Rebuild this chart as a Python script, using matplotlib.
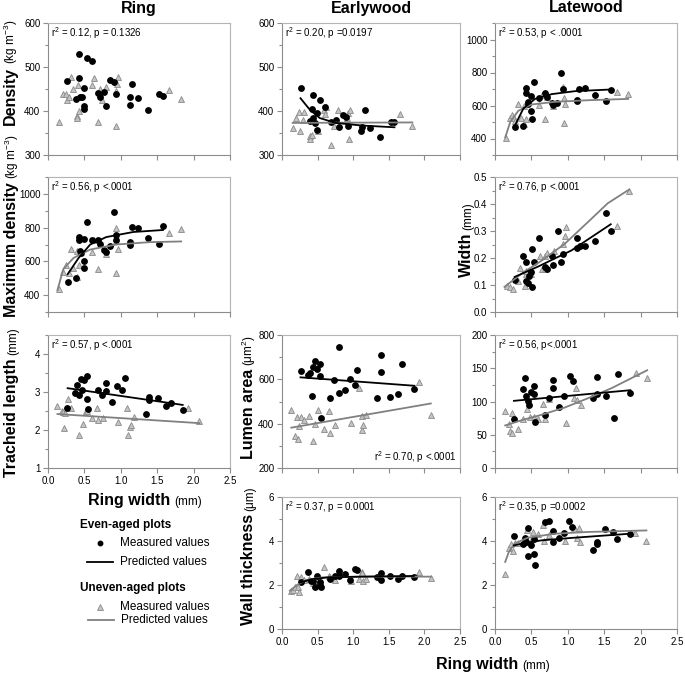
import matplotlib
matplotlib.use("Agg")
import matplotlib.pyplot as plt
from matplotlib.lines import Line2D
from matplotlib.ticker import MultipleLocator, FormatStrFormatter

plt.rcParams['font.family'] = ['Liberation Sans', 'DejaVu Sans']
plt.rcParams['mathtext.fontset'] = 'custom'
plt.rcParams['mathtext.rm'] = 'Liberation Sans'
plt.rcParams['mathtext.it'] = 'Liberation Sans:italic'
plt.rcParams['mathtext.bf'] = 'Liberation Sans:bold'

# ---- data ----
# Ring density
den_ring_e_x = [0.43,0.54,0.60,0.26,0.42,0.50,0.39,0.44,0.47,0.49,0.49,0.69,0.71,0.77,0.80,0.85,0.91,0.93,1.12,1.12,1.16,1.24,1.37,1.53,1.58]
den_ring_e_y = [530,520,514,469,474,453,427,431,431,412,405,440,431,443,411,471,465,439,431,413,461,429,402,439,435]
den_ring_u_x = [0.15,0.20,0.25,0.26,0.29,0.32,0.34,0.40,0.40,0.41,0.43,0.61,0.63,0.69,0.72,0.74,0.80,0.93,0.94,0.95,0.96,1.66,1.83]
den_ring_u_y = [375,439,439,424,432,477,450,389,384,458,401,460,474,374,451,426,455,367,445,462,477,447,428]

# Earlywood density
den_early_e_x = [0.26,0.43,0.42,0.44,0.46,0.39,0.49,0.49,0.53,0.60,0.69,0.76,0.80,0.85,0.90,0.93,1.11,1.12,1.16,1.24,1.37,1.53,1.58]
den_early_e_y = [452,437,405,384,373,378,396,356,425,408,376,379,363,390,387,365,355,364,403,362,340,374,375]
den_early_u_x = [0.15,0.20,0.25,0.24,0.31,0.29,0.40,0.40,0.42,0.50,0.59,0.62,0.61,0.69,0.73,0.79,0.93,0.91,0.96,0.94,1.66,1.83]
den_early_u_y = [361,384,354,397,397,379,344,336,346,355,403,409,394,323,367,402,396,383,402,336,393,367]
den_early_e_fit_x = [0.26,0.39,0.53,0.75,1.12,1.58]
den_early_e_fit_y = [429,403,384,373,367,363]
den_early_u_fit_x = [0.15,1.83]
den_early_u_fit_y = [373,374]

# Latewood density
den_late_e_x = [0.27,0.39,0.42,0.43,0.45,0.46,0.49,0.49,0.51,0.54,0.60,0.69,0.71,0.78,0.80,0.85,0.91,0.93,1.13,1.13,1.16,1.24,1.38,1.53,1.59]
den_late_e_y = [467,475,709,673,624,612,657,568,519,741,647,673,649,616,604,616,798,697,636,628,703,707,661,628,695]
den_late_u_x = [0.15,0.20,0.24,0.26,0.28,0.31,0.36,0.40,0.40,0.43,0.65,0.60,0.68,0.79,0.72,0.94,0.95,0.96,0.95,1.67,1.83]
den_late_u_y = [402,523,541,527,507,608,527,487,598,519,665,606,517,596,653,713,647,608,495,683,671]
den_late_e_fit_x = [0.26,0.39,0.55,0.78,1.10,1.59]
den_late_e_fit_y = [467,582,640,669,687,697]
den_late_u_fit_x = [0.14,0.21,0.32,0.50,0.82,1.28,1.83]
den_late_u_fit_y = [406,501,568,606,622,632,640]

# Maximum density
maxd_e_x = [0.27,0.38,0.42,0.42,0.44,0.46,0.49,0.50,0.50,0.53,0.60,0.69,0.71,0.77,0.79,0.85,0.91,0.93,0.93,1.12,1.12,1.16,1.24,1.37,1.53,1.58]
maxd_e_y = [476,500,744,728,660,650,730,600,560,834,726,726,704,670,654,690,890,756,728,714,696,804,796,740,704,808]
maxd_u_x = [0.15,0.20,0.25,0.29,0.32,0.34,0.40,0.40,0.43,0.63,0.61,0.69,0.80,0.93,0.94,0.94,0.96,1.66,1.83]
maxd_u_y = [434,540,576,530,676,560,510,664,576,726,656,556,644,800,720,534,676,770,794]
maxd_e_fit_x = [0.27,0.42,0.58,0.80,1.17,1.58]
maxd_e_fit_y = [524,620,700,744,774,786]
maxd_u_fit_x = [0.13,0.21,0.35,0.58,0.94,1.40,1.83]
maxd_u_fit_y = [430,554,620,670,700,714,718]

# Latewood width
width_e_x = [0.27,0.39,0.42,0.43,0.45,0.47,0.49,0.51,0.51,0.54,0.61,0.69,0.72,0.78,0.80,0.86,0.91,0.94,1.13,1.13,1.17,1.24,1.38,1.53,1.59]
width_e_y = [0.118,0.209,0.113,0.186,0.109,0.134,0.150,0.234,0.093,0.186,0.275,0.168,0.159,0.209,0.174,0.299,0.184,0.213,0.238,0.275,0.243,0.246,0.263,0.365,0.300]
width_u_x = [0.16,0.21,0.25,0.31,0.35,0.41,0.42,0.43,0.49,0.62,0.65,0.68,0.69,0.72,0.81,0.94,0.96,0.97,1.67,1.84]
width_u_y = [0.096,0.093,0.084,0.115,0.163,0.096,0.140,0.153,0.140,0.206,0.159,0.159,0.209,0.218,0.225,0.253,0.281,0.315,0.319,0.450]
width_e_fit_x = [0.27,0.59,1.05,1.59]
width_e_fit_y = [0.130,0.168,0.228,0.325]
width_u_fit_x = [0.13,0.37,0.64,0.96,1.28,1.55,1.84]
width_u_fit_y = [0.093,0.143,0.190,0.253,0.334,0.403,0.453]

# Tracheid length
trach_e_x = [0.26,0.37,0.40,0.43,0.45,0.47,0.49,0.53,0.54,0.55,0.68,0.74,0.79,0.80,0.88,0.95,1.02,1.06,1.34,1.39,1.39,1.51,1.62,1.69,1.85]
trach_e_y = [2.57,2.98,3.19,2.92,3.34,3.05,3.32,3.42,2.82,2.54,3.05,2.92,3.23,3.03,2.74,3.16,3.04,3.38,2.41,2.88,2.79,2.84,2.64,2.70,2.52]
trach_u_x = [0.13,0.19,0.21,0.22,0.23,0.27,0.31,0.43,0.48,0.52,0.54,0.60,0.67,0.68,0.75,0.96,1.08,1.10,1.13,1.14,1.18,1.92,2.08]
trach_u_y = [2.63,2.50,2.48,2.05,2.45,2.81,2.57,1.86,2.15,2.49,2.50,2.32,2.59,2.26,2.31,2.20,2.58,1.86,2.08,2.14,2.35,2.57,2.24]
trach_e_fit_x = [0.27,1.85]
trach_e_fit_y = [3.10,2.66]
trach_u_fit_x = [0.13,2.08]
trach_u_fit_y = [2.42,2.18]

# Earlywood lumen area
lumen_e_x = [0.26,0.37,0.40,0.42,0.44,0.46,0.49,0.53,0.53,0.55,0.68,0.73,0.80,0.80,0.88,0.95,1.02,1.06,1.34,1.39,1.39,1.52,1.63,1.69,1.86]
lumen_e_y = [637,618,627,526,654,681,646,669,615,426,518,596,744,539,551,601,574,642,516,710,633,521,532,669,557]
lumen_u_x = [0.13,0.18,0.21,0.23,0.24,0.27,0.31,0.38,0.43,0.47,0.51,0.59,0.66,0.68,0.74,0.97,1.08,1.13,1.13,1.14,1.18,1.92,2.09]
lumen_u_y = [461,346,431,329,391,431,418,435,320,399,461,378,458,358,396,405,560,434,373,396,441,590,441]
lumen_e_fit_x = [0.26,1.86]
lumen_e_fit_y = [609,571]
lumen_u_fit_x = [0.13,2.09]
lumen_u_fit_y = [382,491]

# Latewood lumen area
llumen_e_x = [0.26,0.38,0.41,0.43,0.45,0.47,0.49,0.53,0.54,0.55,0.68,0.74,0.80,0.80,0.88,0.95,1.03,1.07,1.34,1.40,1.40,1.52,1.63,1.69,1.86]
llumen_e_y = [73,119,135,109,101,95,115,124,112,69,79,106,132,120,91,108,139,131,106,137,112,108,75,142,113]
llumen_u_x = [0.14,0.19,0.20,0.23,0.24,0.31,0.38,0.44,0.48,0.53,0.59,0.66,0.68,0.74,0.97,1.08,1.11,1.13,1.18,1.93,2.09]
llumen_u_y = [85,66,55,52,83,58,73,88,76,76,73,96,73,104,68,106,120,102,94,143,135]
llumen_e_fit_x = [0.26,1.86]
llumen_e_fit_y = [101,117]
llumen_u_fit_x = [0.14,0.37,0.64,0.96,1.28,1.60,2.09]
llumen_u_fit_y = [64,72,80,91,105,120,147]

# Earlywood wall thickness
wall_e_x = [0.26,0.37,0.41,0.44,0.47,0.49,0.53,0.54,0.55,0.68,0.74,0.80,0.80,0.88,0.95,1.02,1.06,1.34,1.39,1.39,1.51,1.63,1.69,1.85]
wall_e_y = [2.15,2.60,2.20,2.20,1.89,2.42,2.15,2.00,1.89,2.29,2.41,2.63,2.41,2.50,2.23,2.71,2.66,2.35,2.53,2.23,2.42,2.26,2.41,2.35]
wall_u_x = [0.13,0.16,0.18,0.21,0.23,0.24,0.27,0.31,0.38,0.43,0.47,0.51,0.59,0.66,0.68,0.74,0.97,1.08,1.12,1.13,1.14,1.18,1.92,2.09]
wall_u_y = [1.74,1.77,1.92,2.41,1.89,1.68,2.35,2.23,2.26,2.11,2.00,2.15,2.80,2.41,2.38,2.23,2.18,2.26,2.59,2.53,2.20,2.26,2.59,2.33]
wall_e_fit_x = [0.25,0.43,0.66,1.12,1.85]
wall_e_fit_y = [2.11,2.27,2.35,2.38,2.41]
wall_u_fit_x = [0.11,0.21,0.34,0.57,1.12,2.09]
wall_u_fit_y = [1.74,2.00,2.23,2.35,2.38,2.38]

# Latewood wall thickness
lwall_e_x = [0.26,0.38,0.41,0.43,0.45,0.46,0.49,0.53,0.54,0.55,0.68,0.74,0.80,0.80,0.88,0.95,1.02,1.06,1.34,1.40,1.40,1.51,1.62,1.68,1.85]
lwall_e_y = [4.21,3.88,4.15,3.95,4.57,3.31,3.80,4.11,3.43,2.89,4.86,4.90,4.45,3.95,4.15,4.38,4.93,4.63,3.61,3.95,3.88,4.53,4.41,4.11,4.30]
lwall_u_x = [0.14,0.19,0.22,0.25,0.27,0.31,0.38,0.44,0.48,0.52,0.59,0.66,0.67,0.74,0.96,1.08,1.10,1.13,1.15,1.17,1.92,2.08]
lwall_u_y = [2.50,3.68,3.88,3.55,3.92,3.92,3.95,4.48,3.95,4.41,4.33,4.71,4.00,4.26,4.00,4.53,4.56,4.15,4.60,3.95,4.36,4.00]
lwall_e_fit_x = [0.26,0.41,0.64,1.05,1.85]
lwall_e_fit_y = [3.80,3.91,4.03,4.14,4.33]
lwall_u_fit_x = [0.14,0.19,0.27,0.45,0.82,1.27,2.08]
lwall_u_fit_y = [3.05,3.50,3.88,4.15,4.33,4.41,4.48]

col_titles = ["Ring", "Earlywood", "Latewood"]

# ---- layout (pixels) ----
W, H = 685, 674
fig = plt.figure(figsize=(W / 100, H / 100), dpi=100)
cols = {1: (48, 230), 2: (282, 460), 3: (495, 677)}
rows = {1: (23, 155), 2: (177, 312), 3: (335, 468), 4: (497, 629)}

DOT = dict(ls='none', marker='o', ms=3.9, color='black', zorder=4)
TRI = dict(ls='none', marker='^', ms=4.3, mfc='#c4c4c4', mec='#8a8a8a', mew=0.6, zorder=3)
AX_GRAY = '#8c8c8c'


def panel(r, c, ex, ey, ux, uy, efit, ufit, ylim, major, minor, fmt, stat,
          xlabels=False, stat_br=False):
    x0, x1 = cols[c]
    y0, y1 = rows[r]
    ax = fig.add_axes([x0 / W, 1 - y1 / H, (x1 - x0) / W, (y1 - y0) / H])
    ax.plot(ux, uy, **TRI)
    ax.plot(ex, ey, **DOT)
    if ufit:
        ax.plot(ufit[0], ufit[1], color='#808080', lw=1.3, zorder=5)
    if efit:
        ax.plot(efit[0], efit[1], color='black', lw=1.3, zorder=6)
    ax.set_xlim(0, 2.5)
    ax.set_ylim(*ylim)
    ax.xaxis.set_major_locator(MultipleLocator(0.5))
    ax.xaxis.set_major_formatter(FormatStrFormatter('%.1f'))
    ax.yaxis.set_major_locator(MultipleLocator(major))
    ax.yaxis.set_minor_locator(MultipleLocator(minor))
    ax.yaxis.set_major_formatter(FormatStrFormatter(fmt))
    ax.tick_params(axis='both', which='both', direction='out', colors=AX_GRAY,
                   labelcolor='black', labelsize=7, width=0.8, pad=2)
    ax.tick_params(which='major', length=3.5)
    ax.tick_params(which='minor', length=2.5)
    if not xlabels:
        ax.tick_params(axis='x', labelbottom=False)
    for s in ax.spines.values():
        s.set_color('#b4b4b4')
        s.set_linewidth(0.8)
    ax.spines['left'].set_color(AX_GRAY)
    ax.spines['bottom'].set_color(AX_GRAY)
    if stat_br:
        ax.annotate(stat, xy=(1, 0), xycoords='axes fraction', xytext=(-3, 11),
                    textcoords='offset pixels', ha='right', va='center', fontsize=7)
    else:
        ax.annotate(stat, xy=(0, 1), xycoords='axes fraction', xytext=(3, -10),
                    textcoords='offset pixels', ha='left', va='center', fontsize=7)
    return ax


panel(1, 1, den_ring_e_x, den_ring_e_y, den_ring_u_x, den_ring_u_y, None, None,
      (300, 600), 100, 50, '%d', r'r$^2$ = 0.12, p = 0.1326')
panel(1, 2, den_early_e_x, den_early_e_y, den_early_u_x, den_early_u_y,
      (den_early_e_fit_x, den_early_e_fit_y), (den_early_u_fit_x, den_early_u_fit_y),
      (300, 600), 100, 50, '%d', r'r$^2$ = 0.20, p =0.0197')
panel(1, 3, den_late_e_x, den_late_e_y, den_late_u_x, den_late_u_y,
      (den_late_e_fit_x, den_late_e_fit_y), (den_late_u_fit_x, den_late_u_fit_y),
      (300, 1100), 200, 100, '%d', r'r$^2$ = 0.53, p < .0001')
panel(2, 1, maxd_e_x, maxd_e_y, maxd_u_x, maxd_u_y,
      (maxd_e_fit_x, maxd_e_fit_y), (maxd_u_fit_x, maxd_u_fit_y),
      (300, 1100), 200, 100, '%d', r'r$^2$ = 0.56, p <.0001')
panel(2, 3, width_e_x, width_e_y, width_u_x, width_u_y,
      (width_e_fit_x, width_e_fit_y), (width_u_fit_x, width_u_fit_y),
      (0, 0.5), 0.1, 0.05, '%.1f', r'r$^2$ = 0.76, p <.0001')
panel(3, 1, trach_e_x, trach_e_y, trach_u_x, trach_u_y,
      (trach_e_fit_x, trach_e_fit_y), (trach_u_fit_x, trach_u_fit_y),
      (1, 4.5), 1, 0.5, '%d', r'r$^2$ = 0.57, p <.0001', xlabels=True)
panel(3, 2, lumen_e_x, lumen_e_y, lumen_u_x, lumen_u_y,
      (lumen_e_fit_x, lumen_e_fit_y), (lumen_u_fit_x, lumen_u_fit_y),
      (200, 800), 200, 100, '%d', r'r$^2$ = 0.70, p <.0001', stat_br=True)
panel(3, 3, llumen_e_x, llumen_e_y, llumen_u_x, llumen_u_y,
      (llumen_e_fit_x, llumen_e_fit_y), (llumen_u_fit_x, llumen_u_fit_y),
      (0, 200), 50, 25, '%d', r'r$^2$ = 0.56, p<.0001')
panel(4, 2, wall_e_x, wall_e_y, wall_u_x, wall_u_y,
      (wall_e_fit_x, wall_e_fit_y), (wall_u_fit_x, wall_u_fit_y),
      (0, 6), 2, 1, '%d', r'r$^2$ = 0.37, p = 0.0001', xlabels=True)
panel(4, 3, lwall_e_x, lwall_e_y, lwall_u_x, lwall_u_y,
      (lwall_e_fit_x, lwall_e_fit_y), (lwall_u_fit_x, lwall_u_fit_y),
      (0, 6), 2, 1, '%d', r'r$^2$ = 0.35, p =0.0002', xlabels=True)

# column titles
for c, t in zip([1, 2, 3], col_titles):
    xc = (cols[c][0] + cols[c][1]) / 2
    fig.text(xc / W, 1 - 8 / H, t, ha='center', va='center', fontsize=11.5, fontweight='bold')

renderer = fig.canvas.get_renderer()


def two_part(x, y, bold, unit, vertical):
    # bold name followed by a smaller unit, sharing one baseline
    rot = 90 if vertical else 0
    kw = dict(rotation=rot, rotation_mode='anchor', ha='left', va='baseline')
    t = fig.text(x / W, 1 - y / H, bold, fontsize=11.5, fontweight='bold', **kw)
    bb = t.get_window_extent(renderer)
    if vertical:
        fig.text(x / W, (bb.y1 + 3) / H, unit, fontsize=8.5, **kw)
    else:
        fig.text((bb.x1 + 4) / W, 1 - y / H, unit, fontsize=8.5, **kw)


two_part(15, 125, 'Density', r'(kg m$^{-3}$)', True)
two_part(16, 317, 'Maximum density', r'(kg m$^{-3}$)', True)
two_part(16, 477, 'Tracheid length', '(mm)', True)
two_part(253, 459, 'Lumen area', r'(μm$^2$)', True)
two_part(253, 625, 'Wall thickness', '(μm)', True)
two_part(471, 277, 'Width', '(mm)', True)
two_part(88, 505, 'Ring width', '(mm)', False)
two_part(436, 669, 'Ring width', '(mm)', False)

# legend
fig.text(80 / W, 1 - 525 / H, 'Even-aged plots', fontsize=8.5, fontweight='bold', va='center')
fig.text(120 / W, 1 - 543 / H, 'Measured values', fontsize=8.5, va='center')
fig.text(120 / W, 1 - 562 / H, 'Predicted values', fontsize=8.5, va='center')
fig.text(80 / W, 1 - 588 / H, 'Uneven-aged plots', fontsize=8.5, fontweight='bold', va='center')
fig.text(120 / W, 1 - 607 / H, 'Measured values', fontsize=8.5, va='center')
fig.text(121 / W, 1 - 620 / H, 'Predicted values', fontsize=8.5, va='center')
fig.add_artist(Line2D([100 / W], [1 - 543 / H], marker='o', ms=3.2, color='black', ls='none'))
fig.add_artist(Line2D([87 / W, 113 / W], [1 - 562 / H] * 2, color='black', lw=1.3))
fig.add_artist(Line2D([100 / W], [1 - 607 / H], marker='^', ms=4, mfc='#c4c4c4', mec='#8a8a8a', mew=0.6, ls='none'))
fig.add_artist(Line2D([88 / W, 114 / W], [1 - 620 / H] * 2, color='#808080', lw=1.3))

fig.savefig('out.png', dpi=100)
